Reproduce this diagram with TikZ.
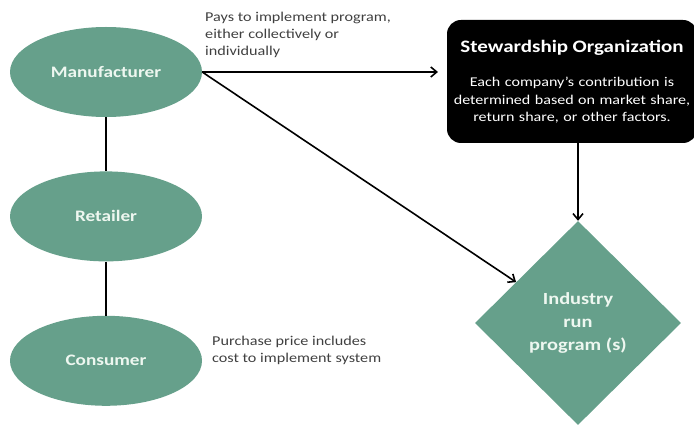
\documentclass[tikz,border=0pt]{standalone}
\usepackage{fontspec}
\setmainfont[FakeStretch=1.2]{Carlito}
\usetikzlibrary{arrows.meta, positioning, shapes.geometric, calc}
\definecolor{stewgreen}{HTML}{66A08B}
\definecolor{paletext}{HTML}{EEF7F0}

\begin{document}
\begin{tikzpicture}[
    x=1pt, y=-1pt,
    node distance=54pt,
    >={Straight Barb[length=6pt, width=10pt]},
    actor/.style={ellipse, fill=stewgreen, minimum width=192pt, minimum height=90pt, text=paletext, font=\bfseries\fontsize{16}{20}\selectfont},
    orgbox/.style={rectangle, rounded corners=14pt, fill=black, text=white, minimum width=244pt, minimum height=123pt, text width=250pt, align=center, inner sep=0pt, font=\fontsize{13.4}{17.5}\selectfont},
    progbox/.style={diamond, fill=stewgreen, minimum width=206pt, minimum height=204pt, text=paletext, align=center, font=\bfseries\fontsize{17}{23}\selectfont},
    note/.style={anchor=north west, inner sep=0pt, align=left, text=black!75, font=\fontsize{13.5}{17}\selectfont},
    link/.style={line width=1.6pt}
  ]
    \useasboundingbox (0,0) rectangle (694,430);
    \node[actor] (manu) at (106,72) {Manufacturer};
    \node[actor, below=of manu] (retail) {Retailer};
    \node[actor, below=of retail] (cons) {Consumer};
    \node[orgbox] (org) at (572,81.5) {{\bfseries\fontsize{17.5}{20}\selectfont Stewardship Organization}\\[17pt]
      Each company's contribution is\\ determined based on market share,\\ return share, or other factors.};
    \node[progbox] (prog) at (578,323) {Industry\\run\\program (s)};
    \node[note] (paynote) at (205,12) {Pays to implement program,\\either collectively or\\individually};
    \node[note] (pricenote) at (212,336) {Purchase price includes\\cost to implement system};
    \coordinate (payend) at (438,72);
    \draw[link] (manu) -- (retail);
    \draw[link] (retail) -- (cons);
    \draw[link, ->] (manu.east) -- (payend);
    \draw[link, ->] (manu.east) -- ($(prog.west)!0.4!(prog.north)$);
    \draw[link, ->] (org.south -| prog.north) -- (prog.north);
  \end{tikzpicture}
\end{document}
